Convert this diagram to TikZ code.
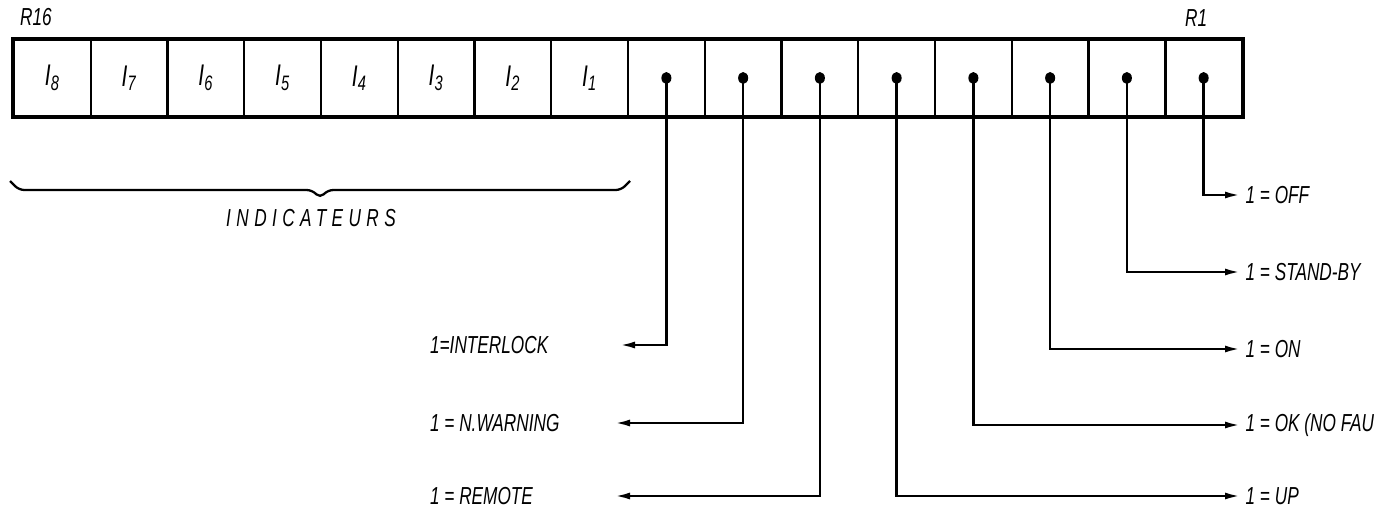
\documentclass[tikz,border=0pt]{standalone}
\usepackage{fontspec}
\setmainfont{Liberation Sans}[FakeStretch=0.70]
\usetikzlibrary{arrows.meta,positioning}
\tikzset{
 cell/.style={draw, line width=1.4pt, minimum width=1.535cm, minimum height=1.52cm, inner sep=0pt, font=\fontsize{17}{19}\selectfont\itshape},
 frame/.style={line width=1.9pt},
 sig/.style={line width=1.3pt, -{Latex[length=3mm,width=1.4mm]}},
 lbl/.style={font=\fontsize{14}{16}\selectfont\itshape, inner sep=1pt}
}
\begin{document}
\begin{tikzpicture}[x=0.02cm,y=-0.02cm]
\useasboundingbox (0,0) rectangle (1389,511);
% register, R1 on the right
\foreach \i in {1,...,8}
  \node[cell] (r\i) at ({1242-76.75*(\i-0.5)},78) {};
\foreach \k [count=\i from 9] in {1,...,8}
  \node[cell] (r\i) at ({1242-76.75*(\i-0.5)},78) {I\textsubscript{\k}};
\draw[frame] (r16.north west) rectangle (r1.south east);
\node[lbl, above right=6pt and 3pt of r16.north west] (n16) {R16};
\node[lbl, above=6pt of r1.north, xshift=-0.15cm] (n1) {R1};
\foreach \i in {1,...,8}
  \fill (r\i.center) ellipse [x radius=0.1cm, y radius=0.12cm];
% indicateurs
\draw[line width=1.3pt, rounded corners=3pt] (10,181) -- (19,190) -- (312,190) -- (320,198) -- (328,190) -- (621,190) -- (630,181);
\node[lbl] (ind) at (311,218) {\addfontfeature{LetterSpace=22}INDICATEURS};
% arrow ends
\coordinate (tInterlock) at (620,345);
\coordinate (tWarning) at (615,423);
\coordinate (tRemote) at (615,496);
\coordinate (tOff) at (1240,195);
\coordinate (tStandby) at (1240,272);
\coordinate (tOn) at (1240,349);
\coordinate (tOk) at (1240,425);
\coordinate (tUp) at (1240,496);
\draw[sig] (r8.center) |- (tInterlock);
\draw[sig] (r7.center) |- (tWarning);
\draw[sig] (r6.center) |- (tRemote);
\draw[sig] (r5.center) |- (tUp);
\draw[sig] (r4.center) |- (tOk);
\draw[sig] (r3.center) |- (tOn);
\draw[sig] (r2.center) |- (tStandby);
\draw[sig] (r1.center) |- (tOff);
% labels
\node[lbl, anchor=west] (lInterlock) at (428,345) {1=INTERLOCK};
\node[lbl, anchor=west] (lWarning) at (428,423) {1 = N.WARNING};
\node[lbl, anchor=west] (lRemote) at (428,496) {1 = REMOTE};
\node[lbl, right=2pt of tOff] (lOff) {1 = OFF};
\node[lbl, right=2pt of tStandby] (lStandby) {1 = STAND-BY};
\node[lbl, right=2pt of tOn] (lOn) {1 = ON};
\node[lbl, right=2pt of tOk] (lOk) {1 = OK (NO FAU};
\node[lbl, right=2pt of tUp] (lUp) {1 = UP};
\end{tikzpicture}
\end{document}
